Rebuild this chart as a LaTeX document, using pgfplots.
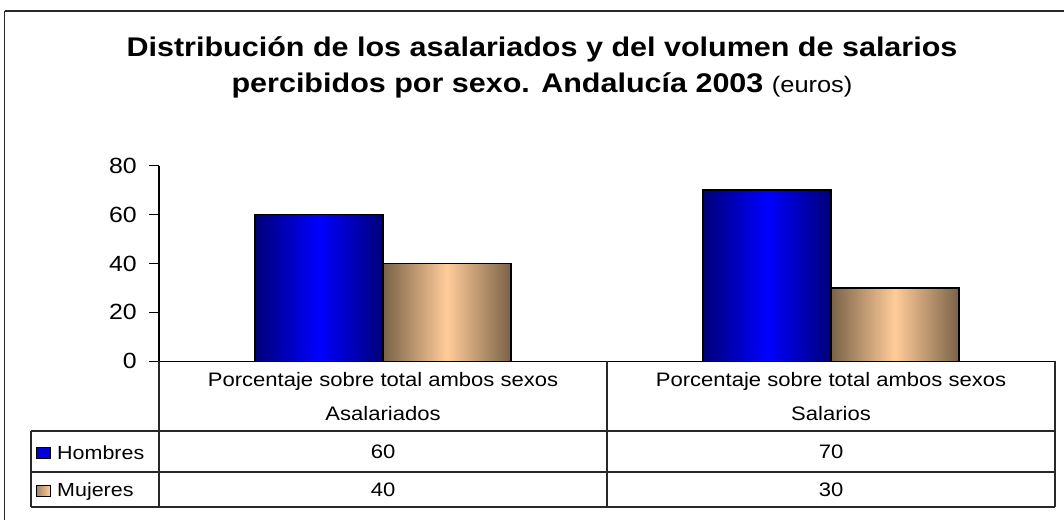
\documentclass[border=0pt]{standalone}
\usepackage{pgfplots}
\pgfplotsset{compat=1.18}
\usepackage{pgfplotstable}
\usepackage{fontspec}
\setmainfont[FakeStretch=1.13]{Liberation Sans}

\definecolor{navy}{RGB}{0,0,120}
\definecolor{bblue}{RGB}{0,0,255}
\definecolor{tandark}{RGB}{122,98,72}
\definecolor{peach}{RGB}{255,204,153}
\definecolor{gridc}{RGB}{40,40,40}

% group 1: Asalariados, group 2: Salarios
\pgfplotstableread{
x h m
0 60 40
}\grpA
\pgfplotstableread{
x h m
1 70 30
}\grpB

\begin{document}
\begin{tikzpicture}[x=1bp,y=1bp]
\useasboundingbox (0,0) rectangle (1064,520);
% outer frame (image y -> 520 - y)
\draw[gridc, line width=1.6bp] (4.5,509) -- (1075,509);
\draw[gridc, line width=1.6bp] (4.5,509) -- (4.5,-10);
% title
\node[anchor=base, inner sep=0pt, font=\bfseries\fontsize{27bp}{32bp}\selectfont] at (542,463) {Distribución de los asalariados y del volumen de salarios};
\node[anchor=base, inner sep=0pt] at (542,427) {\fontsize{27bp}{32bp}\selectfont\bfseries percibidos por sexo. Andalucía 2003 \mdseries\fontsize{22.5bp}{27bp}\selectfont(euros)};

\begin{axis}[
  at={(159bp,158.7bp)}, anchor=south west,
  scale only axis, width=896bp, height=195.6bp,
  xmin=-0.5, xmax=1.5, ymin=0, ymax=80,
  axis x line=bottom, axis y line=left,
  axis line style={-, black, line width=1.3bp},
  ytick={0,20,40,60,80},
  xtick={0,1},
  xticklabels={Porcentaje sobre total ambos sexos\\Asalariados, Porcentaje sobre total ambos sexos\\Salarios},
  xtick style={draw=none},
  ytick style={black, line width=1.2bp},
  ytick align=outside, xtick align=inside,
  major tick length=10bp,
  /pgf/number format/assume math mode=true,
  yticklabel style={font=\fontsize{22bp}{26bp}\selectfont, inner sep=0pt, xshift=-12bp},
  xticklabel style={font=\fontsize{19.5bp}{34bp}\selectfont, align=center, anchor=north, inner sep=0pt, yshift=-11bp},
  clip=false,
  hbar/.style={ybar, bar width=128bp, bar shift=-64bp, draw=black, line width=1.5bp,
    left color=navy, right color=navy, middle color=bblue},
  mbar/.style={ybar, bar width=128bp, bar shift=64bp, draw=black, line width=1.5bp,
    left color=tandark, right color=tandark, middle color=peach},
  vals/.style={only marks, mark=*, mark size=0pt, mark options={draw=none, fill=none},
    nodes near coords,
    every node near coord/.append style={anchor=base, inner sep=0pt, font=\fontsize{19.5bp}{22bp}\selectfont}},
]
\addplot[hbar] table[x=x, y=h] {\grpA};
\addplot[mbar] table[x=x, y=m] {\grpA};
\addplot[hbar] table[x=x, y=h] {\grpB};
\addplot[mbar] table[x=x, y=m] {\grpB};
% table values (Hombres row, Mujeres row)
\addplot[vals, point meta=\thisrow{h}] table[x=x, y expr=-39.8] {\grpA};
\addplot[vals, point meta=\thisrow{h}] table[x=x, y expr=-39.8] {\grpB};
\addplot[vals, point meta=\thisrow{m}] table[x=x, y expr=-55.4] {\grpA};
\addplot[vals, point meta=\thisrow{m}] table[x=x, y expr=-55.4] {\grpB};
\end{axis}

% data table grid
\begin{scope}[gridc, line width=1.3bp]
\draw (31,89) -- (1055,89);
\draw (31,48) -- (1055,48);
\draw (31,13) -- (1055,13);
\draw (31,89) -- (31,13);
\draw (159,158.7) -- (159,13);
\draw (607,158.7) -- (607,13);
\draw (1055,158.7) -- (1055,13);
\end{scope}
% legend keys
\draw[black, line width=1bp, fill=bblue!85!black] (36,61) rectangle (50,72);
\draw[black, line width=1bp, left color=tandark!70!peach, right color=peach] (36,23) rectangle (50,34);
\node[anchor=base west, inner sep=0pt, font=\fontsize{19bp}{22bp}\selectfont] at (57,60.7) {Hombres};
\node[anchor=base west, inner sep=0pt, font=\fontsize{19bp}{22bp}\selectfont] at (57,23) {Mujeres};
\end{tikzpicture}
\end{document}
